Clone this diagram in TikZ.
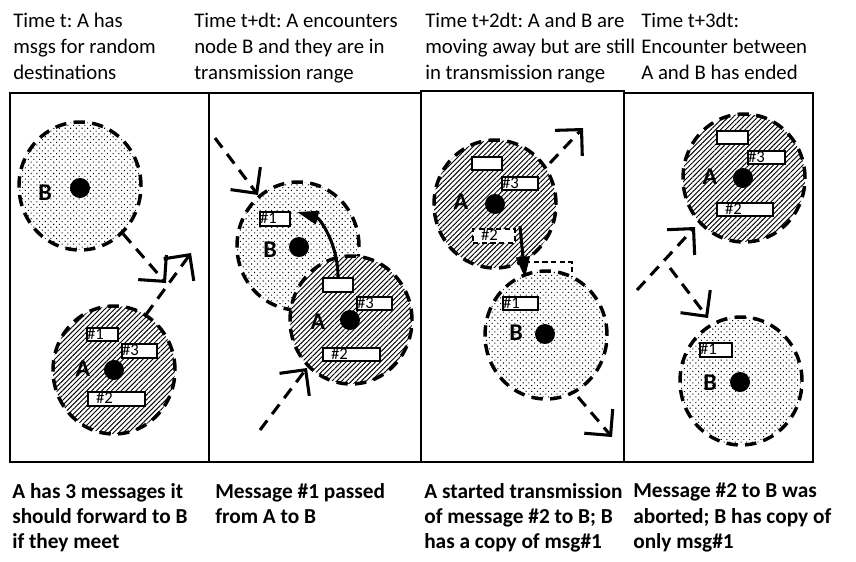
\documentclass[tikz,border=0pt]{standalone}
\usepackage{fontspec}
\setmainfont{Carlito}
\frenchspacing
\usetikzlibrary{shapes.geometric,patterns.meta,arrows.meta}
\tikzset{
  rng/.style={ellipse, minimum width=91.5pt, minimum height=96pt, inner sep=0pt, draw, line width=2.6pt, dash pattern=on 8.5pt off 5.5pt},
  nodeA/.style={rng, preaction={fill=white}, pattern={Lines[angle=45, distance=2.6pt, line width=0.7pt]}},
  nodeB/.style={rng, pattern={Dots[angle=45, distance=3pt, radius=0.55pt]}},
  hub/.style={circle, fill=black, minimum size=15pt, inner sep=0pt},
  lbl/.style={font=\bfseries\fontsize{18}{18}\selectfont, inner sep=0pt},
  msg/.style={draw, fill=white, line width=1.5pt, inner xsep=0pt, inner ysep=0.5pt, text height=8.2pt, text depth=1pt, align=left, font=\fontsize{12.5}{12.5}\selectfont},
  msgdash/.style={msg, dash pattern=on 4pt off 2.5pt},
  motion/.style={line width=2.3pt, dash pattern=on 9pt off 6pt, -{Straight Barb[length=14pt, width=28pt, line width=2.3pt]}},
  xfer/.style={line width=2.3pt, -{Triangle[length=16pt, width=10pt]}},
  toptext/.style={anchor=north west, inner sep=0pt, align=left, font=\fontsize{15.6}{19.5}\selectfont},
  bottext/.style={anchor=north west, inner sep=0pt, align=left, font=\bfseries\fontsize{16}{19}\selectfont},
  panel/.style={draw, line width=1.5pt}
}
\begin{document}
\begin{tikzpicture}[x=0.75pt, y=-0.75pt]
\useasboundingbox (0,0) rectangle (856,561);
% panels
\draw[panel] (10,93) rectangle (209,462);
\draw[panel] (209,93) rectangle (421,462);
\draw[panel] (421,91) rectangle (624,462);
\draw[panel] (624,93) rectangle (813,462);

% captions
\node[toptext] (c1) at (13,13) {Time t: A has\\msgs for random\\destinations};
\node[toptext] (c2) at (194,13) {Time t+dt: A encounters\\node B and they are in\\transmission range};
\node[toptext] (c3) at (425,13) {Time t+2dt: A and B are\\moving away but are still\\in transmission range};
\node[toptext] (c4) at (641,13) {Time t+3dt:\\Encounter between\\A and B has ended};

\node[bottext] (d1) at (12,483) {A has 3 messages it\\should forward to B\\if they meet};
\node[bottext] (d2) at (215,483) {Message \#1 passed\\from A to B};
\node[bottext] (d3) at (424,483) {A started transmission\\of message \#2 to B; B\\has a copy of msg\#1};
\node[bottext] (d4) at (633,483) {Message \#2 to B was\\aborted; B has copy of\\only msg\#1};

% ---------- panel 1
\node[nodeB] (B1) at (80,186) {};
\node[nodeA] (A1) at (114,370) {};
\node[hub] (B1h) at (80,188) {};
\node[hub] (A1h) at (114,370) {};
\node[lbl] (B1l) at (45,193) {B};
\node[lbl] (A1l) at (83,369) {A};
\node[msg, text width=23.25pt] (p1m1) at (102.5,334.5) {\#1};
\node[msg, text width=26.25pt] (p1m3) at (139.5,351) {\#3};
\node[msg, text width=42.75pt] (p1m2) at (116.5,399) {\hspace{6pt}\#2};
\coordinate (p1b) at (166,283);
\coordinate (p1a) at (191,253);
\draw[motion] (B1.-48) -- (p1b);
\draw[motion] (A1.60) -- (p1a);

% ---------- panel 2
\node[nodeB] (B2) at (298,246) {};
\node[nodeA] (A2) at (351,320) {};
\node[hub] (B2h) at (299,247) {};
\node[hub] (A2h) at (350,320) {};
\node[lbl] (B2l) at (270,250) {B};
\node[lbl] (A2l) at (318,322) {A};
\node[msg, text width=22.5pt] (p2b1) at (275,219) {\#1};
\node[msg, text width=22.5pt] (p2e) at (338,285) {};
\node[msg, text width=26.25pt] (p2m3) at (374.5,303.5) {\#3};
\node[msg, text width=42.75pt] (p2m2) at (351.5,354.5) {\hspace{6pt}\#2};
\coordinate (p2s1) at (215,138);
\coordinate (p2t1) at (258,195);
\coordinate (p2s2) at (260,430);
\coordinate (p2t2) at (307,368);
\draw[motion] (p2s1) -- (p2t1);
\draw[motion] (p2s2) -- (p2t2);
\coordinate (p2tip) at (297,212);
\draw[xfer] (p2e.north) .. controls +(0,-35) and +(22,6) .. (p2tip);

% ---------- panel 3
\node[nodeA] (A3) at (495,204) {};
\node[nodeB] (B3) at (546,335) {};
\node[hub] (A3h) at (495,204) {};
\node[hub] (B3h) at (545,334) {};
\node[lbl] (A3l) at (461,202) {A};
\node[lbl] (B3l) at (516,333) {B};
\node[msg, text width=22.5pt] (p3e) at (487,163.5) {};
\node[msg, text width=27pt] (p3m3) at (520,183.5) {\#3};
\node[msgdash, text width=31.5pt] (p3m2) at (494,236) {\hspace{6pt}\#2};
\node[msg, text width=26.25pt] (p3b1) at (520.5,303.5) {\#1};
\coordinate (p3r1) at (525,262);
\coordinate (p3r2) at (572,276);
\draw[line width=1.5pt, dash pattern=on 4pt off 2.5pt] (p3r1) -| (p3r2);
\coordinate (p3s) at (520,226);
\coordinate (p3t) at (525,278);
\draw[xfer] (p3s) -- (p3t);
\coordinate (p3as) at (550,163);
\coordinate (p3at) at (583,128);
\coordinate (p3bs) at (578,397);
\coordinate (p3bt) at (612,437);
\draw[motion] (p3as) -- (p3at);
\draw[motion] (p3bs) -- (p3bt);

% ---------- panel 4
\node[nodeA] (A4) at (744,178) {};
\node[nodeB] (B4) at (741,381) {};
\node[hub] (A4h) at (743,178) {};
\node[hub] (B4h) at (740,382) {};
\node[lbl] (A4l) at (710,177) {A};
\node[lbl] (B4l) at (710,383) {B};
\node[msg, text width=23.25pt] (p4e) at (732.5,137.5) {};
\node[msg, text width=27.75pt] (p4m3) at (766.5,157.5) {\#3};
\node[msg, text width=42pt] (p4m2) at (745,209.5) {\hspace{6pt}\#2};
\node[msg, text width=24pt] (p4b1) at (716,350) {\#1};
\coordinate (p4as) at (637,290);
\coordinate (p4at) at (695,227);
\coordinate (p4bs) at (670,268);
\coordinate (p4bt) at (708,318);
\draw[motion] (p4as) -- (p4at);
\draw[motion] (p4bs) -- (p4bt);
\end{tikzpicture}
\end{document}
